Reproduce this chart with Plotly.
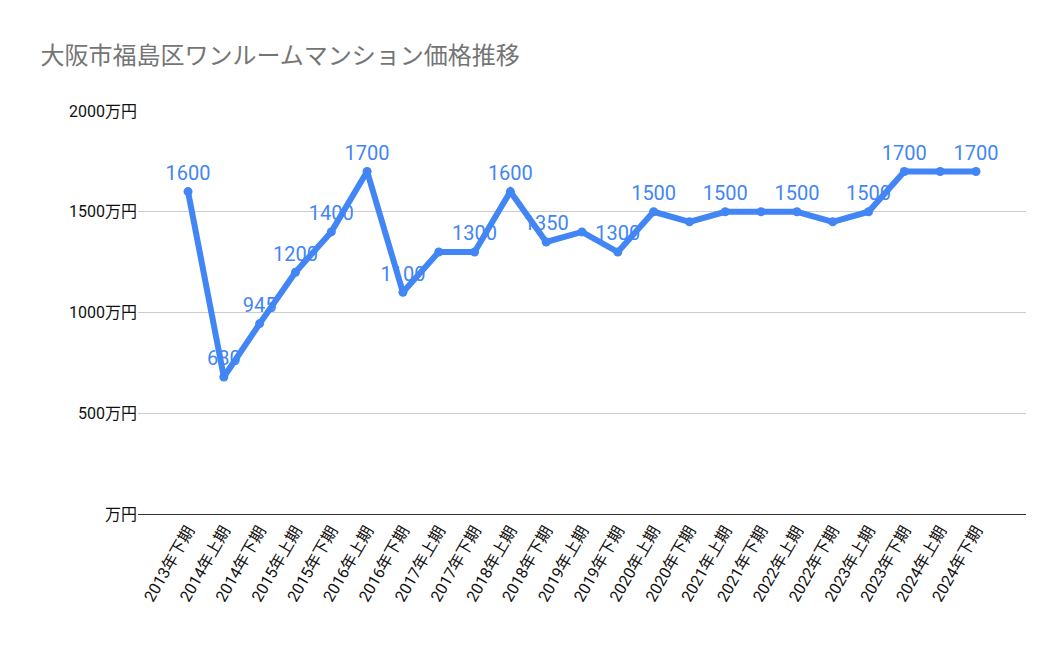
import plotly.graph_objects as go

periods = ["2013年下期", "2014年上期", "2014年下期", "2015年上期", "2015年下期", "2016年上期",
           "2016年下期", "2017年上期", "2017年下期", "2018年上期", "2018年下期", "2019年上期",
           "2019年下期", "2020年上期", "2020年下期", "2021年上期", "2021年下期", "2022年上期",
           "2022年下期", "2023年上期", "2023年下期", "2024年上期", "2024年下期"]
prices = [1600, 680, 945, 1200, 1400, 1700, 1100, 1300, 1300, 1600, 1350, 1400,
          1300, 1500, 1450, 1500, 1500, 1500, 1450, 1500, 1700, 1700, 1700]
shown = ["1600", "680", "945", "1200", "1400", "1700", "1100", "", "1300", "1600", "1350", "",
         "1300", "1500", "", "1500", "", "1500", "", "1500", "1700", "", "1700"]
y_ticks = [0, 500, 1000, 1500, 2000]
y_tick_labels = ["万円", "500万円", "1000万円", "1500万円", "2000万円"]

blue = "#4285F4"

fig = go.Figure(go.Scatter(
    x=periods, y=prices, mode="lines+markers+text",
    text=shown, textposition="top center",
    textfont=dict(color=blue, size=20),
    line=dict(color=blue, width=6),
    marker=dict(color=blue, size=9),
    cliponaxis=False,
))

fig.update_layout(
    width=1050, height=649,
    font=dict(family="Roboto, Noto Sans CJK JP", color="#222"),
    title=dict(text="大阪市福島区ワンルームマンション価格推移", x=0.031, xanchor="left",
               y=0.926, yanchor="middle", font=dict(size=24, color="#757575")),
    plot_bgcolor="white", paper_bgcolor="white",
    margin=dict(l=130, r=32, t=103, b=143),
    showlegend=False,
)
fig.update_xaxes(type="category", tickangle=-60, tickfont=dict(size=16, color="#111"),
                 showgrid=False, showline=True, linecolor="#333", ticks="",
                 automargin=False)
fig.update_yaxes(range=[0, 2000], tickvals=y_ticks, ticktext=y_tick_labels,
                 tickfont=dict(size=16, color="#111"), gridcolor="#cccccc",
                 zeroline=False, automargin=False)

fig.write_html("out.html")
